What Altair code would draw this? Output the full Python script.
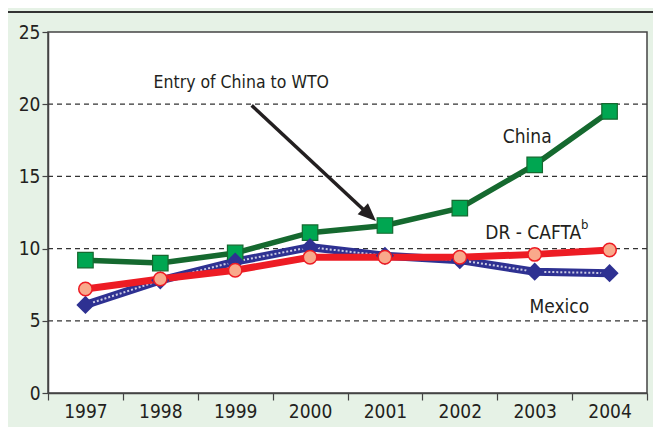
import altair as alt
import pandas as pd

# ---- data ----
years = [1997, 1998, 1999, 2000, 2001, 2002, 2003, 2004]
china = [9.2, 9.0, 9.7, 11.1, 11.6, 12.8, 15.8, 19.5]
cafta = [7.2, 7.9, 8.5, 9.4, 9.4, 9.4, 9.6, 9.9]
mexico = [6.1, 7.8, 9.1, 10.1, 9.5, 9.2, 8.4, 8.3]

grid_values = [5, 10, 15, 20]
y_ticks = [0, 5, 10, 15, 20, 25]
x_bounds = [1996.5, 1997.5, 1998.5, 1999.5, 2000.5, 2001.5, 2002.5, 2003.5, 2004.5]

arrow_x = [1999.22, 2000.74]
arrow_y = [19.92, 12.57]
arrow_tip_x = [2000.88]
arrow_tip_y = [11.91]

entry_text = ["Entry of China to WTO"]
entry_x = [1997.91]
entry_y = [21.45]
label_text = ["DR - CAFTA"]
label_x = [2002.34]
label_y = [11.05]
center_text = ["China", "Mexico"]
center_x = [2002.90, 2003.33]
center_y = [17.72, 5.98]
sup_text = ["b"]
sup_x = [2003.62]
sup_y = [11.6]

FONT = "'DejaVu Sans Condensed', 'Liberation Sans Narrow', 'Arial Narrow', 'Liberation Sans', sans-serif"
W, H = 599, 361

xs = alt.Scale(domain=[1996.5, 2004.5], nice=False, zero=False)
ys = alt.Scale(domain=[0, 25], nice=False, zero=False)

x_axis = alt.Axis(
    values=x_bounds,
    labelExpr="datum.value < 2004 ? toString(datum.value + 0.5) : ''",
    labelOffset=W / 16,
    labelFlush=False, labelOverlap=False, labelBound=False,
    grid=False, tickSize=7, tickColor="#444", tickWidth=1.2,
    domainColor="#444", domainWidth=1.5,
    labelFont=FONT, labelFontSize=19, labelColor="#231f20", labelPadding=2,
    title=None,
)
y_axis = alt.Axis(
    values=y_ticks, grid=False, tickSize=6, tickColor="#444", tickWidth=1.2,
    domainColor="#444", domainWidth=1.5,
    labelFont=FONT, labelFontSize=19, labelColor="#231f20", labelPadding=2,
    title=None,
)


def X(f):
    return alt.X(f, type="quantitative", scale=xs, axis=x_axis)


def Y(f):
    return alt.Y(f, type="quantitative", scale=ys, axis=y_axis)


df = pd.DataFrame({"year": years, "china": china, "cafta": cafta, "mexico": mexico})
grid_df = pd.DataFrame({"g": grid_values})

grid = alt.Chart(grid_df).mark_rule(color="#333", strokeWidth=1.2, strokeDash=[5, 4]).encode(
    y=Y("g")
)

top_line = alt.Chart(grid_df).mark_rule(color="#333", strokeWidth=1.5).encode(
    x=alt.value(-40), x2=alt.value(W + 20), y=alt.value(-20)
)

base = alt.Chart(df)
china_line = base.mark_line(color="#15692f", strokeWidth=5.5).encode(x=X("year"), y=Y("china"))
china_pts = base.mark_point(shape="square", filled=True, fill="#00a651", stroke="#15692f",
                            strokeWidth=1.2, size=240, opacity=1).encode(x=X("year"), y=Y("china"))

mex_line = base.mark_line(color="#2e3192", strokeWidth=8).encode(x=X("year"), y=Y("mexico"))
mex_dots = base.mark_line(color="#ffffff", strokeWidth=2, strokeDash=[2, 2], opacity=0.75).encode(
    x=X("year"), y=Y("mexico"))
mex_pts = base.mark_point(shape="diamond", filled=True, color="#2e3192", size=330, opacity=1).encode(
    x=X("year"), y=Y("mexico"))

caf_line = base.mark_line(color="#ed1c24", strokeWidth=7).encode(x=X("year"), y=Y("cafta"))
caf_pts = base.mark_point(shape="circle", filled=True, fill="#f9a98b", stroke="#ed1c24",
                          strokeWidth=1.5, size=180, opacity=1).encode(x=X("year"), y=Y("cafta"))

arrow_df = pd.DataFrame({"x": arrow_x, "y": arrow_y})
arrow = alt.Chart(arrow_df).mark_line(color="#231f20", strokeWidth=3.5).encode(x=X("x"), y=Y("y"))
tip_df = pd.DataFrame({"x": arrow_tip_x, "y": arrow_tip_y})
tip = alt.Chart(tip_df).mark_point(
    shape="M0,0 L-0.42,1 L0.42,1 Z", filled=True, color="#231f20", size=1296, angle=133, opacity=1
).encode(x=X("x"), y=Y("y"))

entry_df = pd.DataFrame({"t": entry_text, "x": entry_x, "y": entry_y})
entry = alt.Chart(entry_df).mark_text(
    align="left", baseline="middle", font=FONT, fontSize=17.5, color="#231f20"
).encode(x=X("x"), y=Y("y"), text="t:N")

lab_df = pd.DataFrame({"t": label_text, "x": label_x, "y": label_y})
labels = alt.Chart(lab_df).mark_text(
    align="left", baseline="middle", font=FONT, fontSize=19, color="#231f20"
).encode(x=X("x"), y=Y("y"), text="t:N")

cen_df = pd.DataFrame({"t": center_text, "x": center_x, "y": center_y})
centers = alt.Chart(cen_df).mark_text(
    align="center", baseline="middle", font=FONT, fontSize=19, color="#231f20"
).encode(x=X("x"), y=Y("y"), text="t:N")

sup_df = pd.DataFrame({"t": sup_text, "x": sup_x, "y": sup_y})
sup = alt.Chart(sup_df).mark_text(
    align="left", baseline="middle", font=FONT, fontSize=13, color="#231f20"
).encode(x=X("x"), y=Y("y"), text="t:N")

chart = alt.layer(
    grid, top_line,
    china_line, mex_line, mex_dots, caf_line,
    china_pts, mex_pts, caf_pts,
    arrow, tip, entry, labels, centers, sup,
).properties(
    width=W, height=H,
    autosize=alt.AutoSizeParams(type="none"),
    padding={"left": 40, "top": 24, "right": 6, "bottom": 34},
    background="#e6f2e6",
).configure_view(
    fill="#ffffff", stroke="#444", strokeWidth=1.5
)

chart.save("out.html", embed_options={"renderer": "svg", "actions": False})
